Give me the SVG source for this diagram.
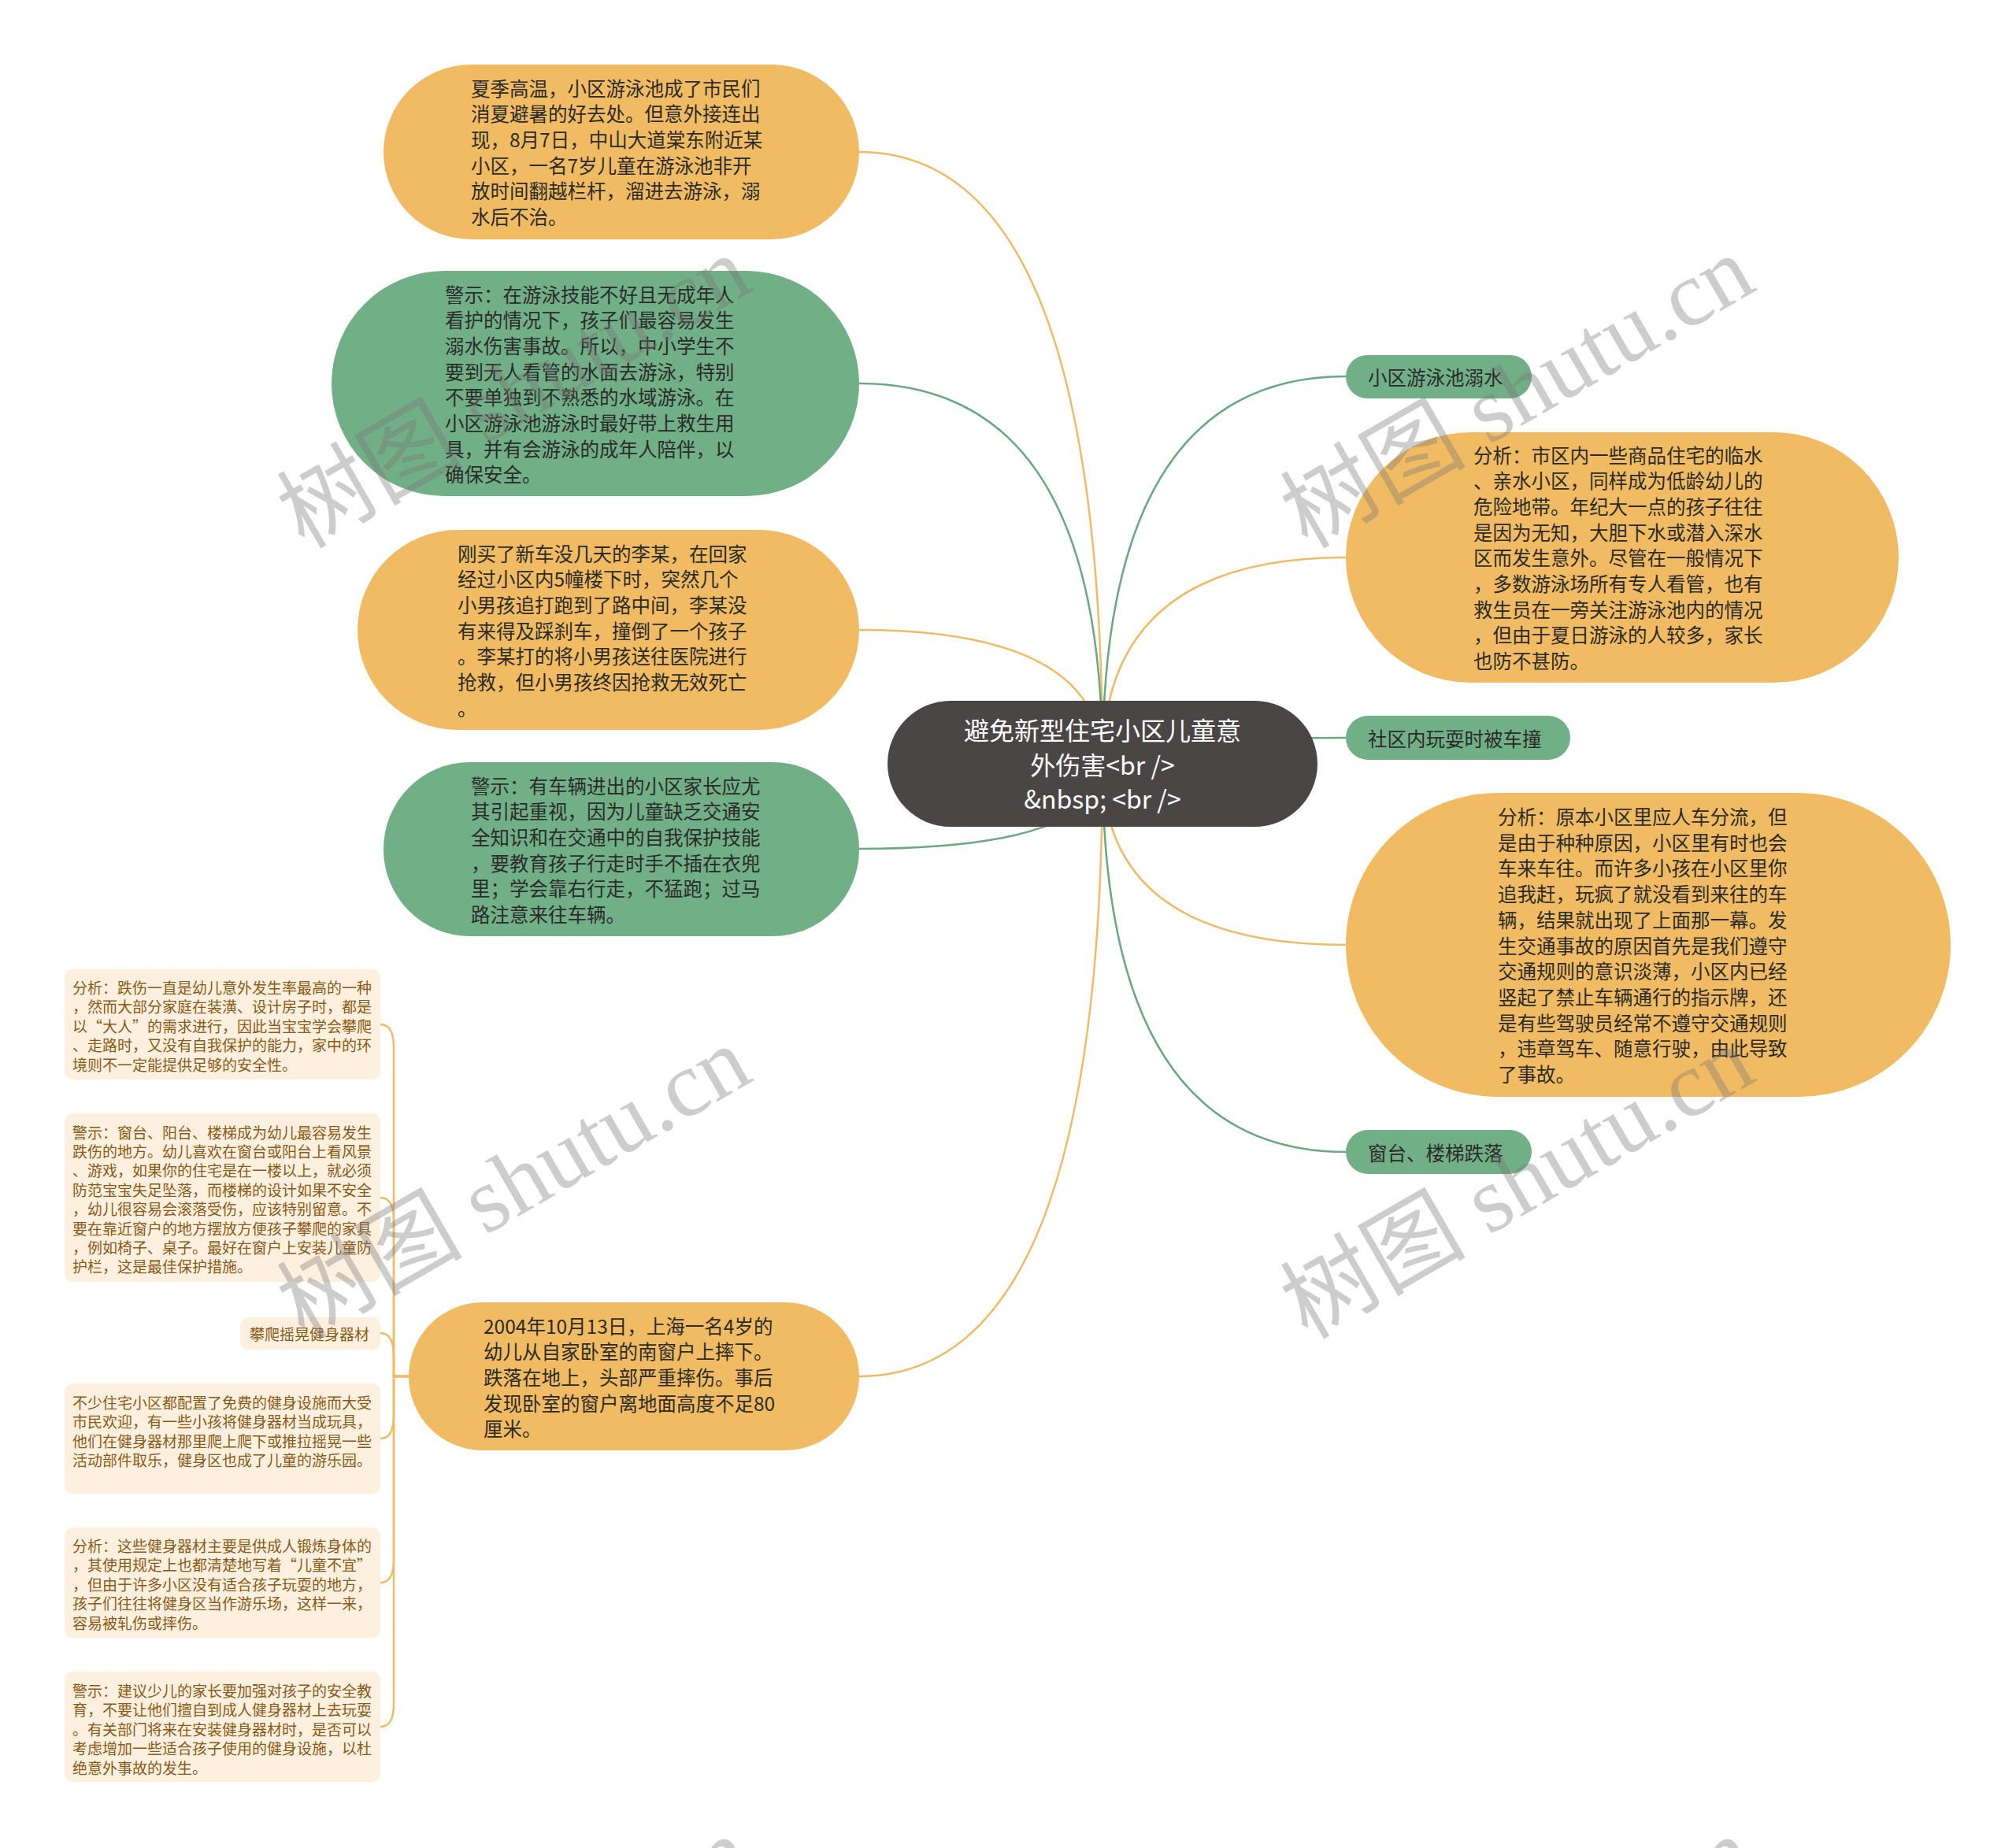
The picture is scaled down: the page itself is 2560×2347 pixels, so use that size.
<svg xmlns="http://www.w3.org/2000/svg" width="2560" height="2347" viewBox="0 0 2560 2347">
<style>
.bg{fill:#ffffff}
.or{fill:#f0bb62}
.gr{fill:#71af86}
.ct{fill:#4b4646}
.sb{fill:#fdf0df}
.t{font-family:"Noto Sans CJK SC","Noto Sans",sans-serif;font-size:24.5px;fill:#2b2b2b;dominant-baseline:central}
.tc{font-family:"Noto Sans CJK SC","Noto Sans",sans-serif;font-size:32px;fill:#ffffff;dominant-baseline:central;text-anchor:middle}
.ts{font-family:"Noto Sans CJK SC","Noto Sans",sans-serif;font-size:19px;fill:#8a5a16;dominant-baseline:central}
.lo{fill:none;stroke:#eebb66;stroke-width:2.5}
.lg{fill:none;stroke:#6aa880;stroke-width:2.5}
.wm{font-family:"Liberation Serif","Noto Sans CJK SC",serif;font-size:118px;fill:#777777;opacity:0.36}
</style>
<rect class="bg" x="0" y="0" width="2560" height="2347"/>
<g id="connectors">
<path class="lo" d="M1400 970 Q1400 193 1091 193"/>
<path class="lg" d="M1400 970 Q1400 487 1091 487"/>
<path class="lo" d="M1400 970 Q1400 800 1091 800"/>
<path class="lg" d="M1400 970 Q1400 1078 1091 1078"/>
<path class="lo" d="M1400 970 Q1400 1748 1091 1748"/>
<path class="lg" d="M1400 970 Q1400 478 1709 478"/>
<path class="lo" d="M1400 970 Q1400 708 1709 708"/>
<path class="lg" d="M1400 970 Q1400 937 1709 937"/>
<path class="lo" d="M1400 970 Q1400 1200 1709 1200"/>
<path class="lg" d="M1400 970 Q1400 1463 1709 1463"/>
<path class="lo" d="M519 1748 L500 1748 L500 1330 Q500 1301 483 1301"/>
<path class="lo" d="M519 1748 L500 1748 L500 1550 Q500 1521 483 1521"/>
<path class="lo" d="M519 1748 L500 1748 L500 1722 Q500 1693 483 1693"/>
<path class="lo" d="M519 1748 L500 1748 L500 1798 Q500 1827 483 1827"/>
<path class="lo" d="M519 1748 L500 1748 L500 1981 Q500 2010 483 2010"/>
<path class="lo" d="M519 1748 L500 1748 L500 2164 Q500 2193 483 2193"/>
</g>
<g id="center">
<rect class="ct" x="1127" y="890" width="546" height="160" rx="80"/>
<text class="tc" x="1400" y="926">避免新型住宅小区儿童意</text>
<text class="tc" x="1400" y="970">外伤害&lt;br /&gt;</text>
<text class="tc" x="1400" y="1013">&amp;nbsp; &lt;br /&gt;</text>
</g>
<g id="n1">
<rect class="or" x="487" y="82" width="604" height="222" rx="111"/>
<text class="t" x="598" y="111">夏季高温，小区游泳池成了市民们</text>
<text class="t" x="598" y="143.7">消夏避暑的好去处。但意外接连出</text>
<text class="t" x="598" y="176.4">现，8月7日，中山大道棠东附近某</text>
<text class="t" x="598" y="209.1">小区，一名7岁儿童在游泳池非开</text>
<text class="t" x="598" y="241.8">放时间翻越栏杆，溜进去游泳，溺</text>
<text class="t" x="598" y="274.5">水后不治。</text>
</g>
<g id="n2">
<rect class="gr" x="421" y="344" width="670" height="286" rx="143"/>
<text class="t" x="565" y="373">警示：在游泳技能不好且无成年人</text>
<text class="t" x="565" y="405.7">看护的情况下，孩子们最容易发生</text>
<text class="t" x="565" y="438.4">溺水伤害事故。所以，中小学生不</text>
<text class="t" x="565" y="471.1">要到无人看管的水面去游泳，特别</text>
<text class="t" x="565" y="503.8">不要单独到不熟悉的水域游泳。在</text>
<text class="t" x="565" y="536.5">小区游泳池游泳时最好带上救生用</text>
<text class="t" x="565" y="569.2">具，并有会游泳的成年人陪伴，以</text>
<text class="t" x="565" y="601.9">确保安全。</text>
</g>
<g id="n3">
<rect class="or" x="454" y="673" width="637" height="254" rx="127"/>
<text class="t" x="581" y="702">刚买了新车没几天的李某，在回家</text>
<text class="t" x="581" y="734.7">经过小区内5幢楼下时，突然几个</text>
<text class="t" x="581" y="767.4">小男孩追打跑到了路中间，李某没</text>
<text class="t" x="581" y="800.1">有来得及踩刹车，撞倒了一个孩子</text>
<text class="t" x="581" y="832.8">。李某打的将小男孩送往医院进行</text>
<text class="t" x="581" y="865.5">抢救，但小男孩终因抢救无效死亡</text>
<text class="t" x="581" y="898.2">。</text>
</g>
<g id="n4">
<rect class="gr" x="487" y="968" width="604" height="221" rx="110"/>
<text class="t" x="598" y="997">警示：有车辆进出的小区家长应尤</text>
<text class="t" x="598" y="1029.7">其引起重视，因为儿童缺乏交通安</text>
<text class="t" x="598" y="1062.4">全知识和在交通中的自我保护技能</text>
<text class="t" x="598" y="1095.1">，要教育孩子行走时手不插在衣兜</text>
<text class="t" x="598" y="1127.8">里；学会靠右行走，不猛跑；过马</text>
<text class="t" x="598" y="1160.5">路注意来往车辆。</text>
</g>
<g id="n5">
<rect class="or" x="519" y="1654" width="572" height="188" rx="94"/>
<text class="t" x="614" y="1683">2004年10月13日，上海一名4岁的</text>
<text class="t" x="614" y="1715.7">幼儿从自家卧室的南窗户上摔下。</text>
<text class="t" x="614" y="1748.4">跌落在地上，头部严重摔伤。事后</text>
<text class="t" x="614" y="1781.1">发现卧室的窗户离地面高度不足80</text>
<text class="t" x="614" y="1813.8">厘米。</text>
</g>
<g id="n6">
<rect class="gr" x="1709" y="451" width="236" height="55" rx="27.5"/>
<text class="t" x="1737" y="478.5">小区游泳池溺水</text>
</g>
<g id="n7">
<rect class="or" x="1709" y="549" width="702" height="318" rx="159"/>
<text class="t" x="1871" y="577">分析：市区内一些商品住宅的临水</text>
<text class="t" x="1871" y="609.7">、亲水小区，同样成为低龄幼儿的</text>
<text class="t" x="1871" y="642.4">危险地带。年纪大一点的孩子往往</text>
<text class="t" x="1871" y="675.1">是因为无知，大胆下水或潜入深水</text>
<text class="t" x="1871" y="707.8">区而发生意外。尽管在一般情况下</text>
<text class="t" x="1871" y="740.5">，多数游泳场所有专人看管，也有</text>
<text class="t" x="1871" y="773.2">救生员在一旁关注游泳池内的情况</text>
<text class="t" x="1871" y="805.9">，但由于夏日游泳的人较多，家长</text>
<text class="t" x="1871" y="838.6">也防不甚防。</text>
</g>
<g id="n8">
<rect class="gr" x="1709" y="909" width="285" height="56" rx="28"/>
<text class="t" x="1737" y="937">社区内玩耍时被车撞</text>
</g>
<g id="n9">
<rect class="or" x="1709" y="1007" width="768" height="386" rx="193"/>
<text class="t" x="1902" y="1036.5">分析：原本小区里应人车分流，但</text>
<text class="t" x="1902" y="1069.2">是由于种种原因，小区里有时也会</text>
<text class="t" x="1902" y="1101.9">车来车往。而许多小孩在小区里你</text>
<text class="t" x="1902" y="1134.6">追我赶，玩疯了就没看到来往的车</text>
<text class="t" x="1902" y="1167.3">辆，结果就出现了上面那一幕。发</text>
<text class="t" x="1902" y="1200">生交通事故的原因首先是我们遵守</text>
<text class="t" x="1902" y="1232.7">交通规则的意识淡薄，小区内已经</text>
<text class="t" x="1902" y="1265.4">竖起了禁止车辆通行的指示牌，还</text>
<text class="t" x="1902" y="1298.1">是有些驾驶员经常不遵守交通规则</text>
<text class="t" x="1902" y="1330.8">，违章驾车、随意行驶，由此导致</text>
<text class="t" x="1902" y="1363.5">了事故。</text>
</g>
<g id="n10">
<rect class="gr" x="1709" y="1435" width="236" height="56" rx="28"/>
<text class="t" x="1737" y="1463">窗台、楼梯跌落</text>
</g>
<g id="b11">
<rect class="sb" x="82" y="1231" width="401" height="140" rx="10"/>
<text class="ts" x="92" y="1253">分析：跌伤一直是幼儿意外发生率最高的一种</text>
<text class="ts" x="92" y="1277.6">，然而大部分家庭在装潢、设计房子时，都是</text>
<text class="ts" x="92" y="1302.2">以“大人”的需求进行，因此当宝宝学会攀爬</text>
<text class="ts" x="92" y="1326.8">、走路时，又没有自我保护的能力，家中的环</text>
<text class="ts" x="92" y="1351.4">境则不一定能提供足够的安全性。</text>
</g>
<g id="b12">
<rect class="sb" x="82" y="1414" width="401" height="214" rx="10"/>
<text class="ts" x="92" y="1437">警示：窗台、阳台、楼梯成为幼儿最容易发生</text>
<text class="ts" x="92" y="1461.4">跌伤的地方。幼儿喜欢在窗台或阳台上看风景</text>
<text class="ts" x="92" y="1485.8">、游戏，如果你的住宅是在一楼以上，就必须</text>
<text class="ts" x="92" y="1510.2">防范宝宝失足坠落，而楼梯的设计如果不安全</text>
<text class="ts" x="92" y="1534.6">，幼儿很容易会滚落受伤，应该特别留意。不</text>
<text class="ts" x="92" y="1559">要在靠近窗户的地方摆放方便孩子攀爬的家具</text>
<text class="ts" x="92" y="1583.4">，例如椅子、桌子。最好在窗户上安装儿童防</text>
<text class="ts" x="92" y="1607.8">护栏，这是最佳保护措施。</text>
</g>
<g id="b13">
<rect class="sb" x="305" y="1673" width="178" height="41" rx="10"/>
<text class="ts" x="317" y="1693.5">攀爬摇晃健身器材</text>
</g>
<g id="b14">
<rect class="sb" x="82" y="1757" width="401" height="140" rx="10"/>
<text class="ts" x="92" y="1780">不少住宅小区都配置了免费的健身设施而大受</text>
<text class="ts" x="92" y="1804.5">市民欢迎，有一些小孩将健身器材当成玩具，</text>
<text class="ts" x="92" y="1829">他们在健身器材那里爬上爬下或推拉摇晃一些</text>
<text class="ts" x="92" y="1853.5">活动部件取乐，健身区也成了儿童的游乐园。</text>
</g>
<g id="b15">
<rect class="sb" x="82" y="1940" width="401" height="140" rx="10"/>
<text class="ts" x="92" y="1962">分析：这些健身器材主要是供成人锻炼身体的</text>
<text class="ts" x="92" y="1986.6">，其使用规定上也都清楚地写着“儿童不宜”</text>
<text class="ts" x="92" y="2011.2">，但由于许多小区没有适合孩子玩耍的地方，</text>
<text class="ts" x="92" y="2035.8">孩子们往往将健身区当作游乐场，这样一来，</text>
<text class="ts" x="92" y="2060.4">容易被轧伤或摔伤。</text>
</g>
<g id="b16">
<rect class="sb" x="82" y="2123" width="401" height="140" rx="10"/>
<text class="ts" x="92" y="2146">警示：建议少儿的家长要加强对孩子的安全教</text>
<text class="ts" x="92" y="2170.6">育，不要让他们擅自到成人健身器材上去玩耍</text>
<text class="ts" x="92" y="2195.2">。有关部门将来在安装健身器材时，是否可以</text>
<text class="ts" x="92" y="2219.8">考虑增加一些适合孩子使用的健身设施，以杜</text>
<text class="ts" x="92" y="2244.4">绝意外事故的发生。</text>
</g>
<g id="watermark">
<text class="wm" transform="translate(386 698) rotate(-30)">树图 shutu.cn</text>
<text class="wm" transform="translate(1660 698) rotate(-30)">树图 shutu.cn</text>
<text class="wm" transform="translate(386 1702) rotate(-30)">树图 shutu.cn</text>
<text class="wm" transform="translate(1660 1702) rotate(-30)">树图 shutu.cn</text>
<text class="wm" transform="translate(386 2706) rotate(-30)">树图 shutu.cn</text>
<text class="wm" transform="translate(1660 2706) rotate(-30)">树图 shutu.cn</text>
</g>
</svg>
